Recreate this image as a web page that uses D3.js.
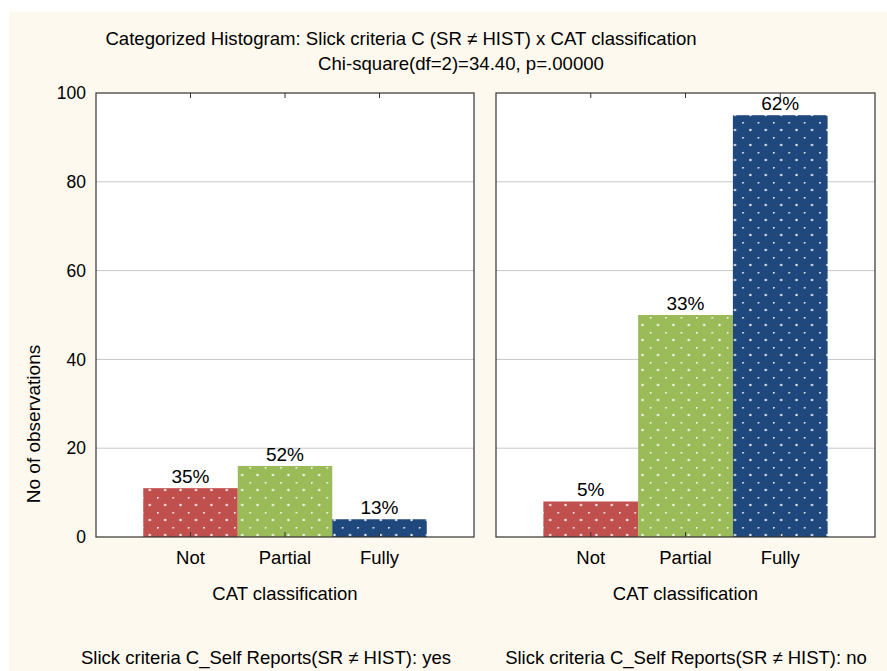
<!DOCTYPE html>
<html>
<head>
<meta charset="utf-8">
<script src="https://cdn.jsdelivr.net/npm/d3@7"></script>
<style>
  body { margin: 0; background: #ffffff; }
  svg { display: block; font-family: "Liberation Sans", Arial, sans-serif; }
</style>
</head>
<body>
<svg id="chart" width="887" height="671"></svg>
<script>
// data
const categories = ['Not', 'Partial', 'Fully'];
const groups = ['Slick criteria C_Self Reports(SR \u2260 HIST): yes', 'Slick criteria C_Self Reports(SR \u2260 HIST): no'];
const countsYes = [11, 16, 4];
const countsNo = [8, 50, 95];
const percentYes = ['35%', '52%', '13%'];
const percentNo = ['5%', '33%', '62%'];
const yTicks = [0, 20, 40, 60, 80, 100];
const barColors = ['#c0504d', '#9bbb59', '#1f497d'];

const panels = [
    { label: groups[0], counts: countsYes, pct: percentYes, x0: 96, x1: 474, labelX: 266 },
    { label: groups[1], counts: countsNo, pct: percentNo, x0: 496, x1: 875, labelX: 686 }
];

const svg = d3.select('#chart');
const plotTop = 93, plotBottom = 537;

// cream page background
svg.append('rect')
    .attr('x', 9).attr('y', 12)
    .attr('width', 878).attr('height', 659)
    .attr('fill', '#fef9ee');

// dotted fill patterns
const defs = svg.append('defs');
barColors.forEach((c, i) => {
    const p = defs.append('pattern')
        .attr('id', 'dots' + i)
        .attr('patternUnits', 'userSpaceOnUse')
        .attr('width', 15.4).attr('height', 15)
        .attr('x', 3).attr('y', 2);
    p.append('rect').attr('width', 15.4).attr('height', 15).attr('fill', c);
    p.append('circle').attr('cx', 0.5).attr('cy', 0.5).attr('r', 1.2).attr('fill', '#fff').attr('opacity', 0.9);
    p.append('circle').attr('cx', 8.2).attr('cy', 8).attr('r', 1.2).attr('fill', '#fff').attr('opacity', 0.9);
});

const yScale = d3.scaleLinear().domain([0, 100]).range([plotBottom, plotTop]);

panels.forEach((pn, pi) => {
    const xScale = d3.scaleLinear().domain([0, 4]).range([pn.x0, pn.x1]);
    const step = xScale(1) - xScale(0);
    const g = svg.append('g');

    g.append('rect')
        .attr('x', pn.x0).attr('y', plotTop)
        .attr('width', pn.x1 - pn.x0).attr('height', plotBottom - plotTop)
        .attr('fill', '#fff');

    // grid
    g.selectAll('.grid')
        .data(yTicks.filter(t => t > 0 && t < 100))
        .enter()
        .append('line')
        .attr('x1', pn.x0).attr('x2', pn.x1)
        .attr('y1', d => yScale(d)).attr('y2', d => yScale(d))
        .attr('stroke', '#c8c8c8')
        .attr('stroke-width', 1);

    // bars
    g.selectAll('.bar')
        .data(pn.counts)
        .enter()
        .append('rect')
        .attr('x', (d, i) => xScale(i + 1) - step / 2)
        .attr('width', step)
        .attr('y', d => yScale(d))
        .attr('height', d => plotBottom - yScale(d))
        .attr('fill', (d, i) => `url(#dots${i})`);

    // percentages
    g.selectAll('.pct')
        .data(pn.counts)
        .enter()
        .append('text')
        .attr('x', (d, i) => xScale(i + 1))
        .attr('y', d => yScale(d) - 5)
        .attr('text-anchor', 'middle')
        .attr('font-size', 19)
        .attr('fill', '#000')
        .text((d, i) => pn.pct[i]);

    // category ticks top and bottom
    categories.forEach((c, i) => {
        const x = xScale(i + 1);
        g.append('line').attr('x1', x).attr('x2', x).attr('y1', plotTop).attr('y2', plotTop + 5).attr('stroke', '#333');
        g.append('line').attr('x1', x).attr('x2', x).attr('y1', plotBottom).attr('y2', plotBottom - 5).attr('stroke', '#333');
    });

    // frame
    g.append('rect')
        .attr('x', pn.x0).attr('y', plotTop)
        .attr('width', pn.x1 - pn.x0).attr('height', plotBottom - plotTop)
        .attr('fill', 'none')
        .attr('stroke', '#333')
        .attr('stroke-width', 1.2);

    // category labels
    g.selectAll('.cat')
        .data(categories)
        .enter()
        .append('text')
        .attr('x', (d, i) => xScale(i + 1))
        .attr('y', 564)
        .attr('text-anchor', 'middle')
        .attr('font-size', 18.5)
        .text(d => d);

    g.append('text')
        .attr('x', xScale(2))
        .attr('y', 600)
        .attr('text-anchor', 'middle')
        .attr('font-size', 18.5)
        .text('CAT classification');

    g.append('text')
        .attr('x', pn.labelX)
        .attr('y', 664)
        .attr('text-anchor', 'middle')
        .attr('font-size', 18.5)
        .text(pn.label);
});

// y axis labels
svg.append('g')
    .attr('transform', `translate(${panels[0].x0},0)`)
    .call(d3.axisLeft(yScale).tickValues(yTicks).tickSize(0).tickPadding(10))
    .call(a => a.select('.domain').remove())
    .selectAll('text')
    .attr('font-size', 17.5)
    .attr('font-family', '"Liberation Sans", Arial, sans-serif')
    .attr('fill', '#000');

svg.append('text')
    .attr('transform', 'translate(40,424) rotate(-90)')
    .attr('text-anchor', 'middle')
    .attr('font-size', 19)
    .text('No of observations');

// titles
svg.append('text')
    .attr('x', 401).attr('y', 45)
    .attr('text-anchor', 'middle')
    .attr('font-size', 18.6)
    .text('Categorized Histogram: Slick criteria C (SR \u2260 HIST) x CAT classification');

svg.append('text')
    .attr('x', 461).attr('y', 70)
    .attr('text-anchor', 'middle')
    .attr('font-size', 18.6)
    .text('Chi-square(df=2)=34.40, p=.00000');
</script>
</body>
</html>
